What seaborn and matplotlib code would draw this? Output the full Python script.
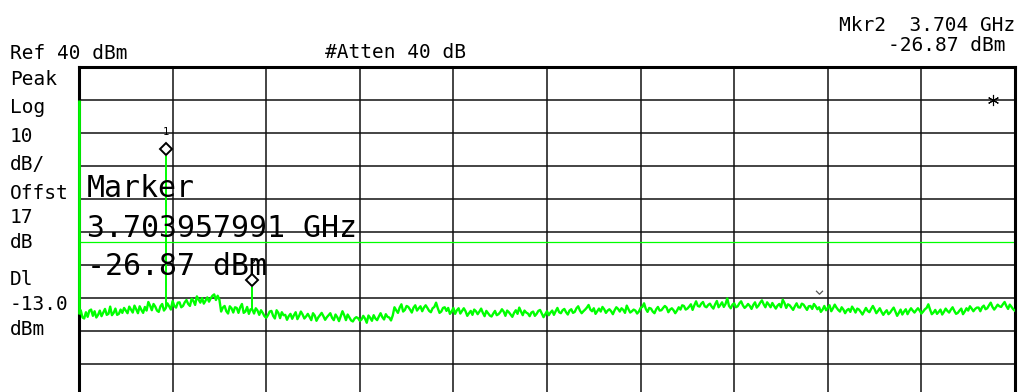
import numpy as np
import pandas as pd
import matplotlib
matplotlib.use("Agg")
import matplotlib.pyplot as plt
import seaborn as sns
from matplotlib.transforms import offset_copy
from matplotlib.path import Path

# ---- analyzer settings ----
start_ghz = 0.0
stop_ghz = 20.0
ref_level_dbm = 40.0
db_per_div = 10.0
display_line_dbm = -13.0

# ---- swept trace, dBm, 541 points evenly spaced from start to stop ----
trace_dbm = [
    -34.8, -33.8, -36.0, -36.3, -34.4, -35.8, -33.9, -33.6, -35.5, -34.1, -36.0, -35.2, -33.9, -35.6, -34.5, -33.4, -35.2, -34.9, -32.7, -35.3,
    -34.6, -33.3, -35.2, -34.9, -33.6, -34.6, -33.1, -33.9, -34.7, -32.7, -33.6, -34.5, -32.4, -33.5, -34.7, -32.6, -33.7, -34.6, -32.8, -33.9,
    -31.3, -32.4, -33.8, -31.9, -32.7, -33.9, -34.3, -32.6, -31.9, -33.9, -33.2, -31.7, -32.6, -33.6, -31.0, -32.5, -33.0, -31.5, -31.4, -32.9,
    -32.5, -31.4, -30.7, -31.9, -32.5, -30.3, -31.0, -32.2, -29.6, -30.6, -31.5, -30.1, -31.8, -30.9, -29.9, -31.2, -30.2, -29.4, -29.0, -30.7,
    -29.4, -30.6, -34.2, -33.0, -32.5, -34.1, -34.8, -32.6, -33.2, -34.5, -32.9, -33.1, -34.6, -32.9, -31.9, -34.6, -34.2, -32.8, -34.9, -33.5,
    -33.6, -34.8, -33.2, -33.9, -35.2, -33.8, -34.6, -35.6, -36.1, -35.3, -34.2, -34.0, -35.5, -36.3, -33.8, -34.6, -36.2, -34.4, -35.3, -35.2,
    -36.7, -35.6, -34.9, -36.4, -35.3, -34.4, -36.5, -35.5, -34.2, -35.1, -36.3, -35.7, -34.9, -35.8, -36.8, -34.7, -35.4, -37.0, -36.0, -35.3,
    -34.6, -35.6, -36.7, -35.9, -35.3, -34.7, -36.1, -36.8, -35.1, -35.9, -37.1, -35.6, -34.1, -35.3, -36.8, -35.1, -36.0, -36.9, -37.2, -36.3,
    -35.9, -36.2, -37.0, -36.6, -35.5, -36.3, -37.6, -35.4, -36.1, -37.0, -35.3, -36.3, -36.8, -35.7, -34.7, -35.9, -36.6, -35.0, -35.8, -36.0,
    -36.9, -35.4, -32.9, -33.8, -34.6, -33.0, -32.0, -34.2, -33.7, -32.5, -32.8, -33.6, -34.5, -33.0, -32.3, -33.9, -33.2, -32.6, -34.1, -33.0,
    -32.3, -33.1, -34.0, -34.4, -33.2, -32.8, -31.5, -33.2, -34.6, -34.2, -33.1, -32.9, -34.0, -33.1, -34.9, -34.2, -33.1, -34.9, -33.8, -33.2,
    -34.8, -34.0, -33.2, -34.1, -35.5, -34.7, -34.0, -35.2, -33.6, -34.1, -35.0, -34.2, -33.3, -34.6, -35.6, -34.0, -34.7, -35.4, -35.7, -34.8,
    -34.0, -35.3, -35.0, -34.4, -33.5, -34.2, -35.5, -33.9, -34.4, -35.1, -35.8, -34.6, -33.8, -34.9, -33.0, -34.2, -35.3, -33.9, -34.5, -34.8,
    -35.6, -34.5, -34.2, -35.5, -34.9, -34.0, -33.7, -34.8, -35.9, -35.0, -34.1, -35.3, -34.5, -33.9, -35.2, -34.1, -33.1, -34.4, -34.7, -33.8,
    -33.4, -34.4, -35.1, -33.9, -33.5, -34.6, -34.3, -33.2, -32.6, -33.9, -34.7, -34.1, -33.6, -33.0, -32.2, -33.6, -34.1, -33.2, -34.9, -34.1,
    -33.3, -34.2, -32.8, -33.5, -34.6, -33.9, -33.5, -34.1, -35.0, -33.8, -32.9, -33.4, -34.2, -33.2, -33.7, -34.6, -32.4, -33.5, -34.5, -34.1,
    -33.6, -33.9, -34.8, -34.2, -33.1, -32.8, -31.7, -33.4, -34.3, -33.1, -33.3, -34.2, -34.7, -33.5, -32.8, -33.9, -33.8, -33.1, -32.5, -33.0,
    -34.4, -33.6, -33.2, -33.8, -34.7, -33.9, -32.9, -33.6, -32.3, -32.5, -33.6, -33.3, -32.7, -32.0, -33.7, -32.3, -31.1, -32.5, -32.7, -31.8,
    -31.3, -32.6, -32.9, -32.2, -31.8, -32.7, -33.3, -32.0, -31.0, -32.9, -32.2, -31.4, -32.8, -31.9, -30.2, -32.5, -33.2, -32.1, -31.7, -32.9,
    -32.6, -31.7, -31.1, -32.3, -33.1, -32.6, -31.9, -32.5, -33.4, -32.2, -31.4, -33.0, -32.4, -31.5, -30.8, -32.0, -32.9, -31.4, -32.1, -32.9,
    -31.6, -32.5, -33.3, -32.4, -31.9, -32.9, -30.6, -31.6, -33.1, -32.0, -32.3, -33.0, -33.7, -32.6, -31.7, -32.9, -33.0, -31.8, -32.1, -32.9,
    -33.7, -32.6, -32.5, -33.4, -31.9, -32.6, -33.5, -32.9, -34.3, -33.6, -32.5, -33.8, -33.1, -32.3, -34.1, -33.2, -32.1, -33.0, -33.7, -34.2,
    -32.9, -33.6, -34.7, -33.8, -33.4, -34.3, -32.7, -33.5, -34.5, -33.3, -33.6, -34.3, -35.1, -34.1, -33.1, -34.0, -34.4, -33.4, -32.5, -33.5,
    -34.7, -34.0, -33.2, -34.3, -35.2, -34.4, -33.8, -35.0, -34.5, -33.7, -33.0, -34.2, -35.5, -34.6, -33.6, -35.1, -34.2, -33.5, -35.0, -34.0,
    -33.2, -33.9, -34.5, -33.8, -33.2, -33.9, -34.8, -34.2, -33.5, -33.1, -32.0, -33.6, -35.0, -34.5, -33.7, -34.9, -34.3, -33.6, -35.1, -34.3,
    -33.3, -34.0, -34.5, -33.6, -32.9, -34.0, -34.9, -34.6, -33.9, -33.3, -35.0, -34.2, -33.2, -33.9, -32.6, -33.3, -34.1, -33.4, -33.0, -33.0,
    -34.1, -32.9, -32.4, -33.5, -33.2, -32.3, -31.5, -32.8, -33.6, -32.9, -32.1, -32.6, -32.8, -32.0, -31.3, -32.5, -33.4, -32.1, -32.8, -33.5,
    -34.0,
]

# ---- narrow signals rising out of the noise: LO feedthrough, fundamental, 2nd harmonic ----
spur_freq_ghz = [0.0, 1.851979, 3.703957991]
spur_peak_dbm = [30.0, 12.9, -26.87]

# ---- markers ----
marker_freq_ghz = [1.851979, 3.703957991]
marker_peak_dbm = [12.9, -26.87]
marker_ids = ["1", "2"]

# ---- screen flags ----
star_freq_ghz, star_dbm = 19.53, 30.0
flag_freq_ghz, flag_dbm = 15.81, -28.3

# ---- annotation text ----
header_left = "Ref 40 dBm"
header_mid = "#Atten 40 dB"
readout_line1 = "Mkr2  3.704 GHz"
readout_line2 = "-26.87 dBm"
side_labels = ["Peak", "Log", "10", "dB/", "Offst", "17", "dB", "Dl", "-13.0", "dBm"]
marker_box = ["Marker", "3.703957991 GHz", "-26.87 dBm"]

# ---------------------------------------------------------------------------
sns.set_style("white")
plt.rcParams["font.family"] = ["DejaVu Sans Mono", "DejaVu Sans"]

W, H = 1019, 392
fig = plt.figure(figsize=(W / 100, H / 100), dpi=100)
fig.patch.set_facecolor("white")

top_px, div_px, left_px, width_px = 66.7, 33.0, 79.0, 936.0
n_div = 10
ax = fig.add_axes([left_px / W, 1 - (top_px + n_div * div_px) / H,
                   width_px / W, n_div * div_px / H])

freq_ghz = np.linspace(start_ghz, stop_ghz, len(trace_dbm))
df = pd.DataFrame({"freq_ghz": freq_ghz, "level_dbm": trace_dbm})

green = "#00ff00"
sns.lineplot(data=df, x="freq_ghz", y="level_dbm", ax=ax, color=green,
             linewidth=1.7, estimator=None, sort=False, zorder=3)

# spurs drawn as single-bin needles from the local trace level
trace_arr = np.asarray(trace_dbm)
base = [trace_arr[np.abs(freq_ghz - f).argmin()] for f in spur_freq_ghz]
ax.vlines(spur_freq_ghz, base, spur_peak_dbm, colors=green,
          linewidths=[2.0, 1.4, 1.4], zorder=3.2, clip_on=False)

# display line
ax.axhline(display_line_dbm, color=green, lw=0.9, zorder=2.2)

bottom_dbm = ref_level_dbm - n_div * db_per_div
ax.set_xlim(start_ghz, stop_ghz)
ax.set_ylim(bottom_dbm, ref_level_dbm)
ax.set_xticks(np.linspace(start_ghz, stop_ghz, n_div + 1))
ax.set_yticks(np.arange(bottom_dbm, ref_level_dbm + 1, db_per_div))
ax.tick_params(length=0, labelbottom=False, labelleft=False)
ax.set_xlabel("")
ax.set_ylabel("")
ax.grid(True, color="#111111", lw=1.1)
ax.set_axisbelow(True)
for s in ax.spines.values():
    s.set_color("black")
    s.set_linewidth(2.2)
    s.set_zorder(2.5)

# marker diamonds sit just above the peak, with their number on top
diamond_tf = offset_copy(ax.transData, fig=fig, x=0, y=7.5, units="dots")
ax.plot(marker_freq_ghz, marker_peak_dbm, ls="none", marker="D", ms=6.4,
        mfc="white", mec="black", mew=1.4, transform=diamond_tf,
        zorder=5, clip_on=False)
label_tf = offset_copy(ax.transData, fig=fig, x=0, y=21, units="dots")
for f, p, lab in zip(marker_freq_ghz, marker_peak_dbm, marker_ids):
    ax.text(f, p, lab, transform=label_tf, ha="center", va="baseline",
            fontsize=7.5, color="black", zorder=5)

ax.plot([star_freq_ghz], [star_dbm], ls="none", marker=(6, 2, 0), ms=8,
        color="black", mew=0.8, zorder=5)
chevron = Path([(-1.0, 0.5), (0.0, -0.5), (1.0, 0.5)],
               [Path.MOVETO, Path.LINETO, Path.LINETO])
ax.plot([flag_freq_ghz], [flag_dbm], ls="none", marker=chevron, ms=5,
        mfc="none", mec="#555555", mew=0.9, zorder=5)


def put(x_px, y_px, s, size, ha="left"):
    fig.text(x_px / W, 1 - y_px / H, s, fontsize=size, ha=ha,
             va="baseline", color="black", zorder=6)


small = 14
put(10, 59, header_left, small)
put(325, 57.5, header_mid, small)
put(1015, 31, readout_line1, small, ha="right")
put(1006, 51, readout_line2, small, ha="right")

side_baselines = [85, 113, 141.5, 170, 199, 223, 248, 285, 310, 335]
for s, yb in zip(side_labels, side_baselines):
    put(10, yb, s, small)

big = 21.5
for s, yb in zip(marker_box, [197, 237, 275]):
    put(87, yb, s, big)

fig.savefig("out.png", dpi=100, facecolor="white")
